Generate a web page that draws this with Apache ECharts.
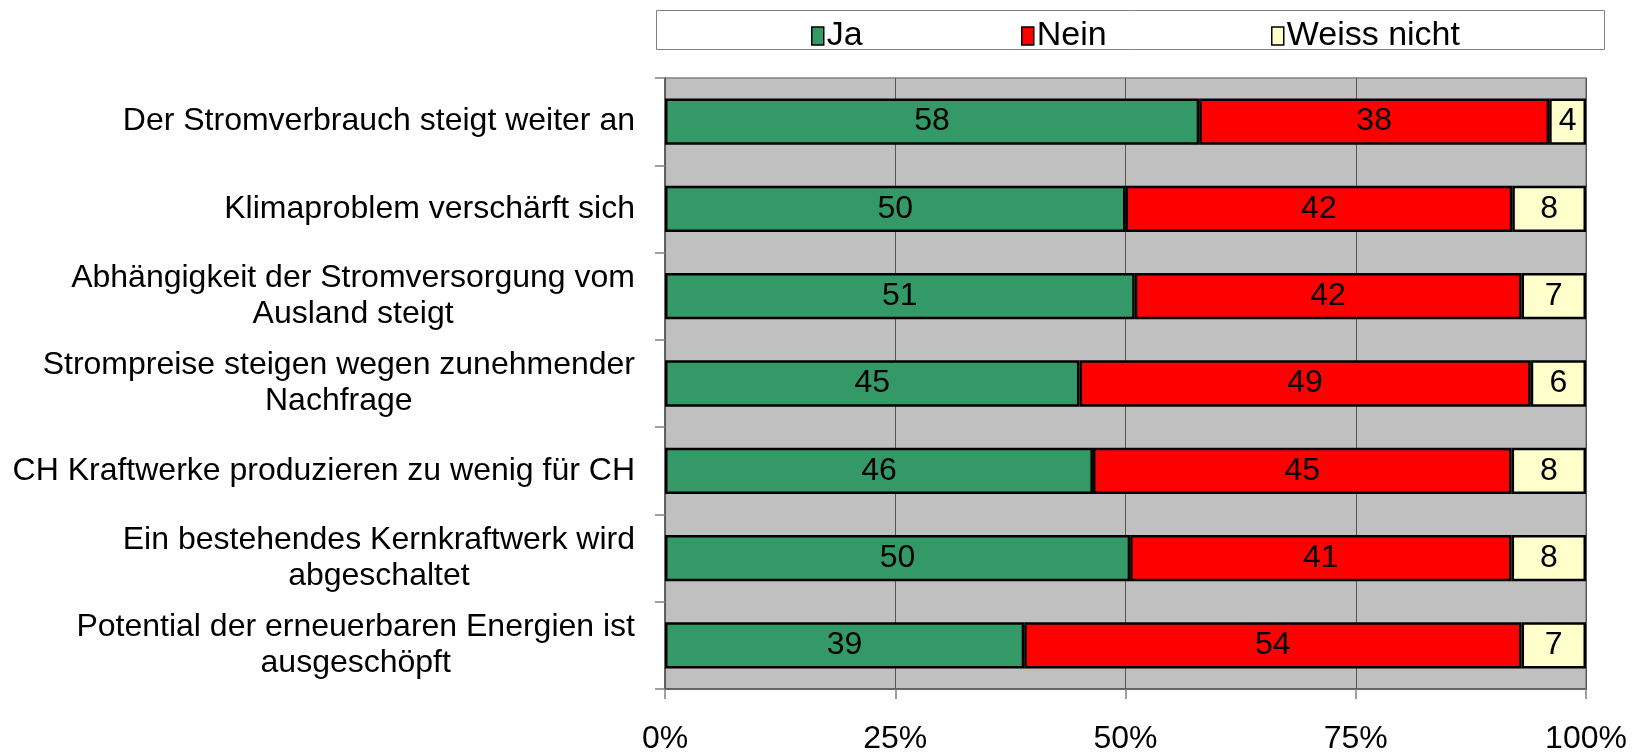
<!DOCTYPE html>
<html>
<head>
<meta charset="utf-8">
<script src="https://cdn.jsdelivr.net/npm/echarts@6/dist/echarts.min.js"></script>
<style>
  html, body { margin: 0; padding: 0; background: #fff; }
  #chart { width: 1632px; height: 755px; }
</style>
</head>
<body>
<div id="chart"></div>
<script>
// Daten (Prozent der Befragten)
const categories = [
  'Der Stromverbrauch steigt weiter an',
  'Klimaproblem verschärft sich',
  'Abhängigkeit der Stromversorgung vom\nAusland steigt',
  'Strompreise steigen wegen zunehmender\nNachfrage',
  'CH Kraftwerke produzieren zu wenig für CH',
  'Ein bestehendes Kernkraftwerk wird\nabgeschaltet',
  'Potential der erneuerbaren Energien ist\nausgeschöpft'
]
const seriesNames = ['Ja', 'Nein', 'Weiss nicht']
const jaValues = [58, 50, 51, 45, 46, 50, 39]
const neinValues = [38, 42, 42, 49, 45, 41, 54]
const weissValues = [4, 8, 7, 6, 8, 8, 7]
const xTicks = [0, 25, 50, 75, 100]

const rawValues = [jaValues, neinValues, weissValues]
const colors = ['#339966', '#FF0000', '#FFFFCC']
const font = 'Liberation Sans, Arial, sans-serif'

// 100%-Stapel: jeder Balken auf die Zeilensumme normiert
const rowSums = categories.map((c, i) => jaValues[i] + neinValues[i] + weissValues[i])
const shares = rawValues.map(arr => arr.map((v, i) => v / rowSums[i] * 100))

const legendLeft = [806, 1016, 1266]

const chart = echarts.init(document.getElementById('chart'))

const option = {
  animation: false,
  textStyle: { fontFamily: font },
  graphic: [{
    type: 'rect',
    shape: { x: 656.5, y: 10.5, width: 948, height: 39 },
    style: { fill: '#fff', stroke: '#808080', lineWidth: 1 },
    z: 0
  }],
  legend: seriesNames.map((name, i) => ({
    data: [name],
    left: legendLeft[i],
    top: 14,
    icon: 'rect',
    itemWidth: 12,
    itemHeight: 18,
    itemGap: 0,
    itemStyle: { borderColor: '#000', borderWidth: 1.5 },
    textStyle: { fontSize: 34, lineHeight: 34, color: '#000', fontFamily: font, padding: [0, 0, 0, -2] },
    selectedMode: false,
    z: 5
  })),
  grid: {
    left: 665,
    right: 46,
    top: 78,
    bottom: 60,
    show: true,
    backgroundColor: '#C0C0C0',
    borderColor: '#808080',
    borderWidth: 1.5
  },
  xAxis: {
    type: 'value',
    min: xTicks[0],
    max: xTicks[xTicks.length - 1],
    interval: xTicks[1] - xTicks[0],
    axisLine: { show: true, lineStyle: { color: '#555', width: 1.5 } },
    axisTick: { show: true, length: 10, lineStyle: { color: '#808080', width: 1.5 } },
    splitLine: { show: true, lineStyle: { color: '#555', width: 1 } },
    axisLabel: {
      formatter: '{value}%',
      fontSize: 32,
      color: '#000',
      margin: 34,
      fontFamily: font
    }
  },
  yAxis: {
    type: 'category',
    inverse: true,
    data: categories,
    axisLine: { show: true, lineStyle: { color: '#555', width: 1.5 } },
    axisTick: { show: true, length: 10, lineStyle: { color: '#808080', width: 1.5 } },
    axisLabel: {
      margin: 30,
      color: '#000',
      fontSize: 32,
      lineHeight: 36,
      fontFamily: font,
      formatter: v => v.split('\n').map(s => '{c|' + s + '}').join('\n'),
      rich: {
        c: { align: 'center', fontSize: 32, lineHeight: 36, color: '#000', fontFamily: font }
      }
    }
  },
  series: seriesNames.map((name, k) => ({
    name: name,
    type: 'bar',
    stack: 'total',
    barWidth: '53%',
    itemStyle: { color: colors[k], borderColor: '#000', borderWidth: 2.5 },
    label: {
      show: true,
      position: 'inside',
      color: '#000',
      fontSize: 32,
      fontFamily: font,
      formatter: p => rawValues[k][p.dataIndex]
    },
    data: shares[k]
  }))
}

chart.setOption(option)
window.onresize = () => chart.resize()
</script>
</body>
</html>
